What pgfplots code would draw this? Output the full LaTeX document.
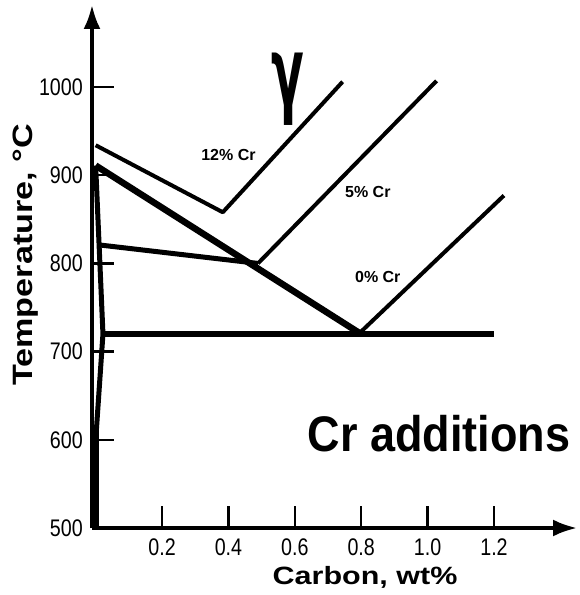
\documentclass[border=0pt]{standalone}
\usepackage{fontspec}
\setmainfont{Liberation Sans}
\newfontfamily\tickfont[FakeStretch=0.82]{Liberation Sans}
\newfontfamily\labfont[FakeStretch=1.22]{Liberation Sans}
\newfontfamily\crfont[FakeStretch=0.9]{Liberation Sans}
\newfontfamily\gfont{DejaVu Sans}
\usepackage{pgfplots}
\pgfplotsset{compat=1.18}
\usetikzlibrary{arrows.meta}
\begin{document}
\begin{tikzpicture}
\begin{axis}[
  scale only axis,
  width=485pt, height=523pt,
  xmin=-0.011, xmax=1.45,
  ymin=500, ymax=1093,
  axis lines=left,
  axis line style={line width=3.5pt, -{Latex[length=24pt,width=17pt]}},
  tick align=inside,
  major tick length=22pt,
  tick style={line width=2.5pt, black},
  xtick={0.2,0.4,0.6,0.8,1.0,1.2},
  xticklabels={0.2,0.4,0.6,0.8,1.0,1.2},
  ytick={500,600,700,800,900,1000},
  yticklabels={500,600,700,800,900,1000},
  /pgf/number format/assume math mode=true,
  ticklabel style={font=\tickfont\fontsize{24}{24}\selectfont, inner sep=0pt},
  yticklabel shift=9pt,
  xticklabel shift=11pt,
  xlabel={Carbon, wt\%},
  ylabel={Temperature, °C},
  xlabel style={font=\labfont\bfseries\fontsize{25}{25}\selectfont, at={(axis description cs:0.563,-0.094)}, anchor=center},
  ylabel style={font=\labfont\bfseries\fontsize{28}{28}\selectfont, at={(axis description cs:-0.136,0.522)}, anchor=center},
  clip=false,
]
% 12% Cr
\addplot[black, line width=4pt, line join=round] coordinates {(0,934) (0.383,858) (0.744,1006)};
% 5% Cr
\addplot[black, line width=5pt, line join=round] coordinates {(0.010,821) (0.489,800)};
\addplot[black, line width=4pt, line join=round] coordinates {(0.489,800) (1.027,1007)};
% 0% Cr
\addplot[black, line width=6.5pt, line join=round] coordinates {(0,911) (0.795,721)};
\addplot[black, line width=4pt, line join=round] coordinates {(0.795,721) (1.23,877)};
% eutectoid horizontal
\addplot[black, line width=6.5pt] coordinates {(0.022,720) (1.2,720)};
% ferrite boundary
\addplot[black, line width=5pt, line join=round] coordinates {(0,911) (0.022,720) (0.002,610) (0.002,500)};
\node[font=\gfont\bfseries\fontsize{48}{48}\selectfont, yscale=2] at (axis cs:0.58,997) {γ};
\node[font=\bfseries\fontsize{16}{16}\selectfont] at (axis cs:0.40,923) {12\% Cr};
\node[font=\bfseries\fontsize{16}{16}\selectfont] at (axis cs:0.82,881) {5\% Cr};
\node[font=\bfseries\fontsize{16}{16}\selectfont] at (axis cs:0.85,785) {0\% Cr};
\node[font=\crfont\bfseries\fontsize{50}{50}\selectfont] at (axis cs:1.034,607) {Cr additions};
\end{axis}
\path[use as bounding box] (-92pt,-67pt) rectangle (488pt,528pt);
\end{tikzpicture}
\end{document}
